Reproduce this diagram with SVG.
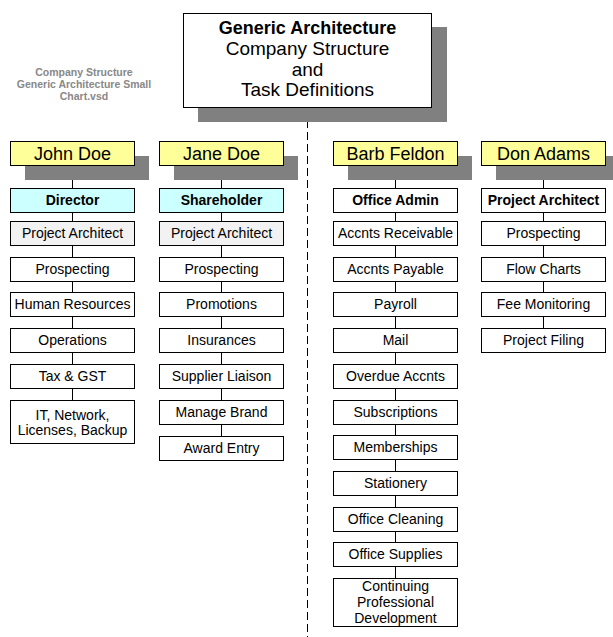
<svg xmlns="http://www.w3.org/2000/svg" width="613" height="637" viewBox="0 0 613 637">
<style>
.bx{fill:#fff;stroke:#000;stroke-width:1}
.nm{fill:#ffff99;stroke:#000;stroke-width:1}
.cy{fill:#ccffff;stroke:#000;stroke-width:1}
.gr{fill:#f2f2f2;stroke:#000;stroke-width:1}
.sh{fill:#808080}
.t{font-family:"Liberation Sans",Arial,sans-serif;font-size:14px;fill:#000;text-anchor:middle}
.b{font-weight:bold;font-size:14px}
.n{font-family:"Liberation Sans",Arial,sans-serif;font-size:18px;fill:#000;text-anchor:middle}
.ti{font-family:"Liberation Sans",Arial,sans-serif;font-size:19px;fill:#000;text-anchor:middle}
.tb{font-weight:bold;font-size:18px}
.side{font-family:"Liberation Sans",Arial,sans-serif;font-size:10.5px;font-weight:bold;fill:#888;text-anchor:middle}
.ln{stroke:#000;stroke-width:1;fill:none}
</style>
<rect width="613" height="637" fill="#fff"/>
<g id="connectors">
<line class="ln" x1="307.5" y1="108" x2="307.5" y2="637" stroke-dasharray="8,4"/>
<line class="ln" x1="72.5" y1="165" x2="72.5" y2="401"/>
<line class="ln" x1="221.5" y1="165" x2="221.5" y2="437"/>
<line class="ln" x1="395.5" y1="165" x2="395.5" y2="579"/>
<line class="ln" x1="543.5" y1="165" x2="543.5" y2="329"/>
</g>
<g id="side-note">
<text class="side" x="84" y="76">Company Structure</text>
<text class="side" x="84" y="88">Generic Architecture Small</text>
<text class="side" x="84" y="100">Chart.vsd</text>
</g>
<g id="title">
<rect class="sh" x="198" y="27" width="249" height="95"/>
<rect class="bx" x="183.5" y="13.5" width="248" height="94"/>
<text class="ti tb" x="307.5" y="34">Generic Architecture</text>
<text class="ti" x="307.5" y="55">Company Structure</text>
<text class="ti" x="307.5" y="76">and</text>
<text class="ti" x="307.5" y="96">Task Definitions</text>
</g>
<g id="john-doe">
<rect class="sh" x="25" y="156" width="124" height="24"/>
<rect class="nm" x="10.5" y="141.5" width="124" height="24"/>
<text class="n" x="72.5" y="160">John Doe</text>
</g>
<g id="jane-doe">
<rect class="sh" x="174" y="156" width="124" height="24"/>
<rect class="nm" x="159.5" y="141.5" width="124" height="24"/>
<text class="n" x="221.5" y="160">Jane Doe</text>
</g>
<g id="barb-feldon">
<rect class="sh" x="348" y="156" width="124" height="24"/>
<rect class="nm" x="333.5" y="141.5" width="124" height="24"/>
<text class="n" x="395.5" y="160">Barb Feldon</text>
</g>
<g id="don-adams">
<rect class="sh" x="496" y="156" width="124" height="24"/>
<rect class="nm" x="481.5" y="141.5" width="124" height="24"/>
<text class="n" x="543.5" y="160">Don Adams</text>
</g>
<g id="jd-director"><rect class="cy" x="10.5" y="188.5" width="124" height="24"/><text class="t b" x="72.5" y="205">Director</text></g>
<g id="jd-pa"><rect class="gr" x="10.5" y="221.5" width="124" height="24"/><text class="t" x="72.5" y="238">Project Architect</text></g>
<g id="jd-prospecting"><rect class="bx" x="10.5" y="257.5" width="124" height="24"/><text class="t" x="72.5" y="274">Prospecting</text></g>
<g id="jd-hr"><rect class="bx" x="10.5" y="292.5" width="124" height="24"/><text class="t" x="72.5" y="309">Human Resources</text></g>
<g id="jd-operations"><rect class="bx" x="10.5" y="328.5" width="124" height="24"/><text class="t" x="72.5" y="345">Operations</text></g>
<g id="jd-tax"><rect class="bx" x="10.5" y="364.5" width="124" height="24"/><text class="t" x="72.5" y="381">Tax &amp; GST</text></g>
<g id="jd-it"><rect class="bx" x="10.5" y="400.5" width="124" height="43"/><text class="t" x="72.5" y="420">IT, Network,</text><text class="t" x="72.5" y="435">Licenses, Backup</text></g>
<g id="jn-shareholder"><rect class="cy" x="159.5" y="188.5" width="124" height="24"/><text class="t b" x="221.5" y="205">Shareholder</text></g>
<g id="jn-pa"><rect class="gr" x="159.5" y="221.5" width="124" height="24"/><text class="t" x="221.5" y="238">Project Architect</text></g>
<g id="jn-prospecting"><rect class="bx" x="159.5" y="257.5" width="124" height="24"/><text class="t" x="221.5" y="274">Prospecting</text></g>
<g id="jn-promotions"><rect class="bx" x="159.5" y="292.5" width="124" height="24"/><text class="t" x="221.5" y="309">Promotions</text></g>
<g id="jn-insurances"><rect class="bx" x="159.5" y="328.5" width="124" height="24"/><text class="t" x="221.5" y="345">Insurances</text></g>
<g id="jn-supplier"><rect class="bx" x="159.5" y="364.5" width="124" height="24"/><text class="t" x="221.5" y="381">Supplier Liaison</text></g>
<g id="jn-brand"><rect class="bx" x="159.5" y="400.5" width="124" height="24"/><text class="t" x="221.5" y="417">Manage Brand</text></g>
<g id="jn-award"><rect class="bx" x="159.5" y="436.5" width="124" height="24"/><text class="t" x="221.5" y="453">Award Entry</text></g>
<g id="bf-admin"><rect class="bx" x="333.5" y="188.5" width="124" height="24"/><text class="t b" x="395.5" y="205">Office Admin</text></g>
<g id="bf-receivable"><rect class="bx" x="333.5" y="221.5" width="124" height="24"/><text class="t" x="395.5" y="238">Accnts Receivable</text></g>
<g id="bf-payable"><rect class="bx" x="333.5" y="257.5" width="124" height="24"/><text class="t" x="395.5" y="274">Accnts Payable</text></g>
<g id="bf-payroll"><rect class="bx" x="333.5" y="292.5" width="124" height="24"/><text class="t" x="395.5" y="309">Payroll</text></g>
<g id="bf-mail"><rect class="bx" x="333.5" y="328.5" width="124" height="24"/><text class="t" x="395.5" y="345">Mail</text></g>
<g id="bf-overdue"><rect class="bx" x="333.5" y="364.5" width="124" height="24"/><text class="t" x="395.5" y="381">Overdue Accnts</text></g>
<g id="bf-subscriptions"><rect class="bx" x="333.5" y="400.5" width="124" height="24"/><text class="t" x="395.5" y="417">Subscriptions</text></g>
<g id="bf-memberships"><rect class="bx" x="333.5" y="435.5" width="124" height="24"/><text class="t" x="395.5" y="452">Memberships</text></g>
<g id="bf-stationery"><rect class="bx" x="333.5" y="471.5" width="124" height="24"/><text class="t" x="395.5" y="488">Stationery</text></g>
<g id="bf-cleaning"><rect class="bx" x="333.5" y="507.5" width="124" height="24"/><text class="t" x="395.5" y="524">Office Cleaning</text></g>
<g id="bf-supplies"><rect class="bx" x="333.5" y="542.5" width="124" height="24"/><text class="t" x="395.5" y="559">Office Supplies</text></g>
<g id="bf-cpd"><rect class="bx" x="333.5" y="578.5" width="124" height="48"/><text class="t" x="395.5" y="591">Continuing</text><text class="t" x="395.5" y="607">Professional</text><text class="t" x="395.5" y="623">Development</text></g>
<g id="da-pa"><rect class="bx" x="481.5" y="188.5" width="124" height="24"/><text class="t b" x="543.5" y="205">Project Architect</text></g>
<g id="da-prospecting"><rect class="bx" x="481.5" y="221.5" width="124" height="24"/><text class="t" x="543.5" y="238">Prospecting</text></g>
<g id="da-flow"><rect class="bx" x="481.5" y="257.5" width="124" height="24"/><text class="t" x="543.5" y="274">Flow Charts</text></g>
<g id="da-fee"><rect class="bx" x="481.5" y="292.5" width="124" height="24"/><text class="t" x="543.5" y="309">Fee Monitoring</text></g>
<g id="da-filing"><rect class="bx" x="481.5" y="328.5" width="124" height="24"/><text class="t" x="543.5" y="345">Project Filing</text></g>
</svg>
